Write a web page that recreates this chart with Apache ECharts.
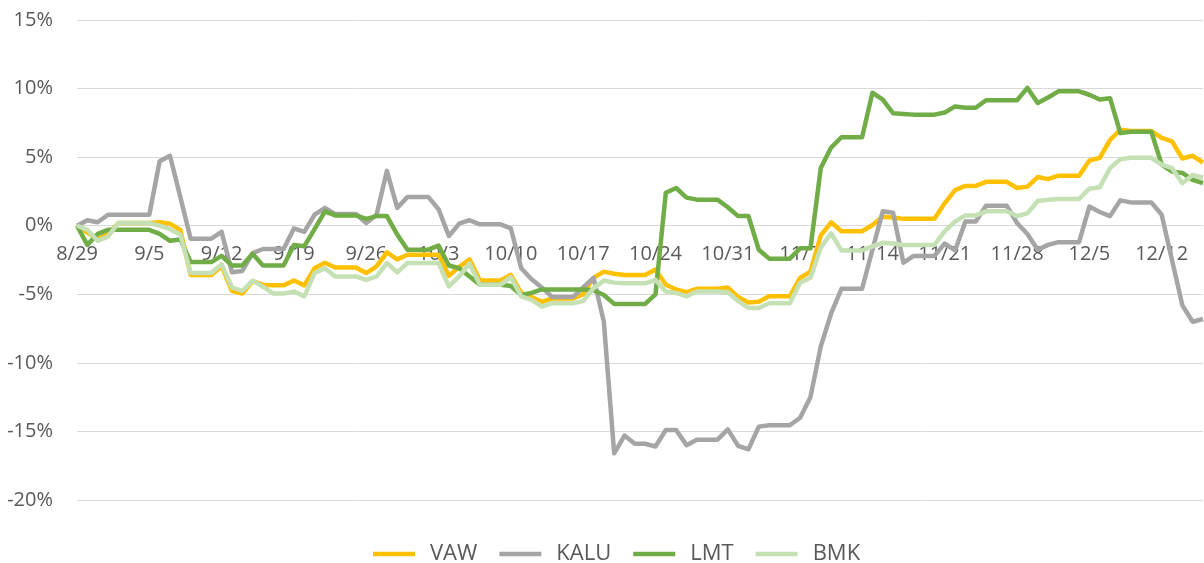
<!DOCTYPE html>
<html>
<head>
<meta charset="utf-8">
<script src="https://cdn.jsdelivr.net/npm/echarts@6/dist/echarts.min.js"></script>
<style>
  html, body { margin: 0; padding: 0; background: #ffffff; }
  #chart { width: 1204px; height: 563px; }
</style>
</head>
<body>
<div id="chart"></div>
<script>
// Calendar days (2016), one point per day
const dates = [
  '8/29','8/30','8/31','9/1','9/2','9/3','9/4',
  '9/5','9/6','9/7','9/8','9/9','9/10','9/11',
  '9/12','9/13','9/14','9/15','9/16','9/17','9/18',
  '9/19','9/20','9/21','9/22','9/23','9/24','9/25',
  '9/26','9/27','9/28','9/29','9/30','10/1','10/2',
  '10/3','10/4','10/5','10/6','10/7','10/8','10/9',
  '10/10','10/11','10/12','10/13','10/14','10/15','10/16',
  '10/17','10/18','10/19','10/20','10/21','10/22','10/23',
  '10/24','10/25','10/26','10/27','10/28','10/29','10/30',
  '10/31','11/1','11/2','11/3','11/4','11/5','11/6',
  '11/7','11/8','11/9','11/10','11/11','11/12','11/13',
  '11/14','11/15','11/16','11/17','11/18','11/19','11/20',
  '11/21','11/22','11/23','11/24','11/25','11/26','11/27',
  '11/28','11/29','11/30','12/1','12/2','12/3','12/4',
  '12/5','12/6','12/7','12/8','12/9','12/10','12/11',
  '12/12','12/13','12/14','12/15','12/16'
];

// Cumulative return, percent
const VAW = [
  0, -0.5, -0.95, -0.65, 0.2, 0.2, 0.2,
  0.2, 0.25, 0.15, -0.3, -3.6, -3.6, -3.6,
  -2.95, -4.75, -4.95, -4.05, -4.3, -4.35, -4.35,
  -4.0, -4.35, -3.1, -2.7, -3.05, -3.05, -3.05,
  -3.45, -2.97, -1.95, -2.45, -2.12, -2.12, -2.12,
  -2.12, -3.65, -3.0, -2.45, -4.0, -4.0, -4.0,
  -3.58, -4.9, -5.2, -5.55, -5.3, -5.3, -5.3,
  -5.0, -3.8, -3.35, -3.5, -3.6, -3.6, -3.6,
  -3.2, -4.3, -4.65, -4.85, -4.6, -4.6, -4.6,
  -4.5, -5.2, -5.6, -5.55, -5.15, -5.15, -5.15,
  -3.8, -3.35, -0.7, 0.25, -0.4, -0.4, -0.4,
  0.05, 0.65, 0.6, 0.5, 0.5, 0.5, 0.5,
  1.65, 2.6, 2.9, 2.9, 3.2, 3.2, 3.2,
  2.75, 2.85, 3.55, 3.4, 3.65, 3.65, 3.65,
  4.75, 4.95, 6.25, 7.0, 6.9, 6.9, 6.9,
  6.4, 6.15, 4.9, 5.1, 4.6
];
const KALU = [
  0, 0.4, 0.25, 0.8, 0.8, 0.8, 0.8,
  0.8, 4.7, 5.1, 2.1, -0.95, -0.95, -0.95,
  -0.45, -3.4, -3.3, -2.0, -1.7, -1.7, -1.7,
  -0.2, -0.45, 0.8, 1.3, 0.85, 0.85, 0.85,
  0.2, 0.8, 4.0, 1.3, 2.1, 2.1, 2.1,
  1.2, -0.75, 0.15, 0.4, 0.1, 0.1, 0.1,
  -0.2, -3.1, -3.9, -4.5, -5.2, -5.2, -5.2,
  -4.5, -3.8, -7.0, -16.6, -15.3, -15.9, -15.9,
  -16.1, -14.9, -14.9, -16.0, -15.6, -15.6, -15.6,
  -14.85, -16.05, -16.3, -14.65, -14.55, -14.55, -14.55,
  -14.0, -12.5, -8.8, -6.4, -4.6, -4.6, -4.6,
  -1.75, 1.05, 0.95, -2.7, -2.2, -2.2, -2.2,
  -1.3, -1.8, 0.3, 0.3, 1.45, 1.45, 1.45,
  0.2, -0.6, -1.75, -1.4, -1.2, -1.2, -1.2,
  1.4, 1.0, 0.7, 1.85, 1.7, 1.7, 1.7,
  0.8, -2.5, -5.8, -7.0, -6.8
];
const LMT = [
  0, -1.4, -0.6, -0.3, -0.3, -0.3, -0.3,
  -0.3, -0.6, -1.1, -1.0, -2.65, -2.65, -2.65,
  -2.2, -2.9, -2.9, -2.05, -2.9, -2.9, -2.9,
  -1.4, -1.5, -0.25, 1.05, 0.75, 0.75, 0.75,
  0.5, 0.7, 0.7, -0.65, -1.75, -1.75, -1.75,
  -1.45, -2.9, -3.1, -3.7, -4.3, -4.3, -4.3,
  -4.4, -5.05, -4.9, -4.65, -4.65, -4.65, -4.65,
  -4.65, -4.7, -5.05, -5.7, -5.7, -5.7, -5.7,
  -5.0, 2.4, 2.75, 2.05, 1.9, 1.9, 1.9,
  1.35, 0.7, 0.7, -1.75, -2.4, -2.4, -2.4,
  -1.65, -1.65, 4.2, 5.7, 6.45, 6.45, 6.45,
  9.7, 9.2, 8.2, 8.15, 8.1, 8.1, 8.1,
  8.25, 8.7, 8.6, 8.6, 9.15, 9.15, 9.15,
  9.15, 10.05, 8.95, 9.35, 9.8, 9.8, 9.8,
  9.55, 9.2, 9.3, 6.75, 6.85, 6.85, 6.85,
  4.45, 3.95, 3.85, 3.35, 3.1
];
const BMK = [
  0, -0.3, -1.1, -0.8, 0.2, 0.2, 0.2,
  0.2, 0.0, -0.25, -0.65, -3.45, -3.45, -3.45,
  -2.8, -4.5, -4.75, -4.0, -4.45, -4.95, -4.95,
  -4.8, -5.15, -3.45, -3.1, -3.7, -3.7, -3.7,
  -3.95, -3.7, -2.72, -3.4, -2.72, -2.72, -2.72,
  -2.72, -4.43, -3.7, -2.75, -4.3, -4.3, -4.3,
  -3.75, -5.15, -5.4, -5.9, -5.65, -5.65, -5.65,
  -5.5, -4.55, -4.0, -4.15, -4.2, -4.2, -4.2,
  -3.95, -4.8, -4.9, -5.15, -4.8, -4.8, -4.8,
  -4.85, -5.5, -6.0, -6.0, -5.65, -5.65, -5.65,
  -4.15, -3.8, -1.6, -0.55, -1.8, -1.8, -1.8,
  -1.5, -1.25, -1.3, -1.4, -1.4, -1.4, -1.4,
  -0.4, 0.3, 0.75, 0.75, 1.05, 1.05, 1.05,
  0.7, 0.9, 1.8, 1.9, 1.95, 1.95, 1.95,
  2.7, 2.8, 4.2, 4.85, 4.95, 4.95, 4.95,
  4.45, 4.2, 3.1, 3.7, 3.5
];

const seriesNames = ['VAW', 'KALU', 'LMT', 'BMK'];
const seriesColors = ['#FFC000', '#A5A5A5', '#70AD47', '#C5E0B4'];
const seriesValues = [VAW, KALU, LMT, BMK];

const yTicks = { min: -20, max: 15, step: 5 };

const FONT = '"Open Sans", "Liberation Sans", sans-serif';
const TEXT = '#595959';
const GRID = '#D9D9D9';

const GRID_TOP = 20, GRID_BOTTOM = 63, H = 563;
const plotH = H - GRID_TOP - GRID_BOTTOM;
// move the category axis from the bottom up to the 0% line
const zeroOffset = -plotH * (0 - yTicks.min) / (yTicks.max - yTicks.min);

const chart = echarts.init(document.getElementById('chart'), null, { renderer: 'canvas' });
chart.setOption({
  animation: false,
  backgroundColor: '#ffffff',
  grid: { left: 77, right: 1, top: GRID_TOP, bottom: GRID_BOTTOM, containLabel: false },
  legend: {
    data: seriesNames,
    left: 368,
    top: 536,
    icon: 'rect',
    itemWidth: 42,
    itemHeight: 4.5,
    itemGap: 22,
    textStyle: { fontFamily: FONT, fontSize: 22, color: TEXT, lineHeight: 26, padding: [0, 0, 0, 10] }
  },
  xAxis: {
    type: 'category',
    data: dates,
    boundaryGap: false,
    position: 'bottom',
    offset: zeroOffset,
    axisLine: { onZero: false, lineStyle: { color: GRID, width: 1 } },
    axisTick: { show: false },
    axisLabel: { interval: 6, margin: 19, fontFamily: FONT, fontSize: 20, color: TEXT },
    splitLine: { show: false }
  },
  yAxis: {
    type: 'value',
    min: yTicks.min,
    max: yTicks.max,
    interval: yTicks.step,
    axisLine: { show: false },
    axisTick: { show: false },
    axisLabel: { formatter: '{value}%', margin: 24, fontFamily: FONT, fontSize: 20, color: TEXT },
    splitLine: { lineStyle: { color: GRID, width: 1 } }
  },
  series: seriesNames.map((name, i) => ({
    name: name,
    type: 'line',
    data: seriesValues[i],
    showSymbol: false,
    symbol: 'none',
    color: seriesColors[i],
    lineStyle: { width: 4.5, color: seriesColors[i], join: 'round', cap: 'butt' },
    emphasis: { disabled: true }
  }))
});
</script>
</body>
</html>
